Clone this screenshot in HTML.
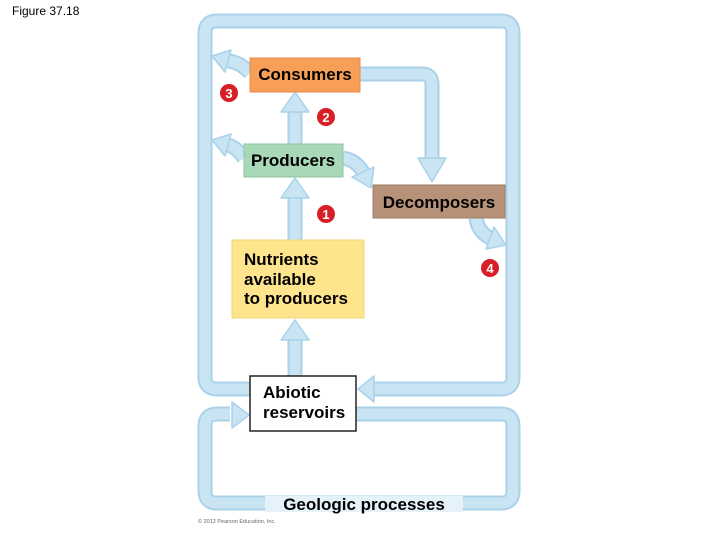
<!DOCTYPE html>
<html><head><meta charset="utf-8"><style>
html,body{margin:0;padding:0;background:#fff;}
svg{display:block;}
text{font-family:"Liberation Sans",Arial,sans-serif;}
</style></head><body>
<svg width="720" height="540" viewBox="0 0 720 540" xmlns="http://www.w3.org/2000/svg">
<text x="12" y="15" font-size="12" fill="#000">Figure 37.18</text>
<g fill="none" stroke-linejoin="round">
  <g stroke="#a9d2ea" stroke-width="15">
    <path d="M250 389 H217 Q205 389 205 377 V33 Q205 21 217 21 H501 Q513 21 513 33 V377 Q513 389 501 389 H372"/>
    <path d="M356 414 H501 Q513 414 513 426 V491 Q513 503 501 503 H217 Q205 503 205 491 V426 Q205 414 217 414 H230"/>
    <path d="M360 74 H422 Q432 74 432 84 V160"/>
    <path d="M295 144 V110"/>
    <path d="M295 240 V196"/>
    <path d="M295 376 V338"/>
    <path d="M250 73 Q240 62 228 61"/>
    <path d="M244 158 Q236 147 228 145"/>
    <path d="M343 158 Q356 160 363 172"/>
    <path d="M476 218 Q478 232 490 238"/>
  </g>
  <g stroke="#c9e4f3" stroke-width="11">
    <path d="M250 389 H217 Q205 389 205 377 V33 Q205 21 217 21 H501 Q513 21 513 33 V377 Q513 389 501 389 H372"/>
    <path d="M356 414 H501 Q513 414 513 426 V491 Q513 503 501 503 H217 Q205 503 205 491 V426 Q205 414 217 414 H230"/>
    <path d="M360 74 H422 Q432 74 432 84 V160"/>
    <path d="M295 144 V110"/>
    <path d="M295 240 V196"/>
    <path d="M295 376 V338"/>
    <path d="M250 73 Q240 62 228 61"/>
    <path d="M244 158 Q236 147 228 145"/>
    <path d="M343 158 Q356 160 363 172"/>
    <path d="M476 218 Q478 232 490 238"/>
  </g>
</g>
<g fill="#c9e4f3" stroke="#a9d2ea" stroke-width="1.5" stroke-linejoin="round">
  <polygon points="418,158 446,158 432,182"/>
  <polygon points="281,112 309,112 295,92"/>
  <polygon points="281,198 309,198 295,178"/>
  <polygon points="281,340 309,340 295,320"/>
  <polygon points="374,376 374,402 358,389"/>
  <polygon points="232,402 232,428 249,415"/>
  <polygon points="231,50 225,72 212,56"/>
  <polygon points="231,134 225,156 212,140"/>
  <polygon points="374,167 352,177 371,188"/>
  <polygon points="486,249 494,227 506,245"/>
</g>
<rect x="250" y="58" width="110" height="34" fill="#f79e57" stroke="#e8894a"/>
<text x="305" y="80" font-size="17" font-weight="bold" text-anchor="middle">Consumers</text>
<rect x="244" y="144" width="99" height="33" fill="#a8d8b8" stroke="#8fc5a3"/>
<text x="293" y="166" font-size="17" font-weight="bold" text-anchor="middle">Producers</text>
<rect x="373" y="185" width="132" height="33" fill="#b89179" stroke="#a07b64"/>
<text x="439" y="208" font-size="17" font-weight="bold" text-anchor="middle">Decomposers</text>
<rect x="232" y="240" width="132" height="78" fill="#fde48d" stroke="#f3d57a"/>
<text font-size="17" font-weight="bold"><tspan x="244" y="265">Nutrients</tspan><tspan x="244" y="285">available</tspan><tspan x="244" y="304">to producers</tspan></text>
<rect x="250" y="376" width="106" height="55" fill="#fff" stroke="#222" stroke-width="1.5"/>
<text font-size="17" font-weight="bold"><tspan x="263" y="398">Abiotic</tspan><tspan x="263" y="418">reservoirs</tspan></text>
<rect x="265" y="496" width="198" height="16" fill="#e6f2f9"/>
<text x="364" y="510" font-size="17" font-weight="bold" text-anchor="middle">Geologic processes</text>
<g font-size="13" font-weight="bold" fill="#fff" text-anchor="middle">
  <circle cx="229" cy="93" r="9" fill="#d81e27"/><text x="229" y="98">3</text>
  <circle cx="326" cy="117" r="9" fill="#d81e27"/><text x="326" y="122">2</text>
  <circle cx="326" cy="214" r="9" fill="#d81e27"/><text x="326" y="219">1</text>
  <circle cx="490" cy="268" r="9" fill="#d81e27"/><text x="490" y="273">4</text>
</g>
<text x="198" y="523" font-size="5.5" fill="#666">© 2012 Pearson Education, Inc.</text>
</svg>
</body></html>
